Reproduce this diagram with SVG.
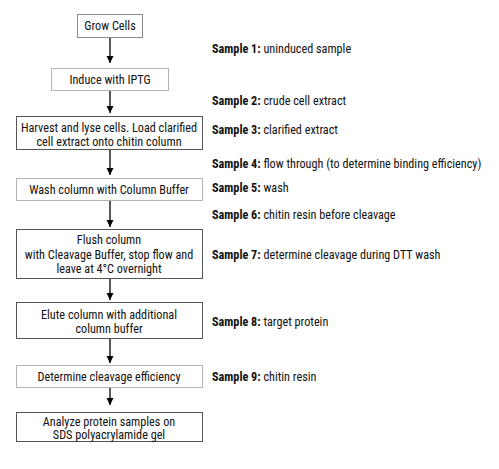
<svg xmlns="http://www.w3.org/2000/svg" width="499" height="469" viewBox="0 0 499 469">
<style>
text{font-family:"Liberation Sans Narrow","Roboto Condensed","Liberation Sans",sans-serif;font-size:12.2px;fill:#111}
.c{text-anchor:middle}
.box{fill:#fff;stroke-width:1}
.lt{stroke:#b4b4b4}
.md{stroke:#8c8c8c}
.dk{stroke:#555}
.b{font-weight:bold}
.conn line{stroke:#000;stroke-width:1.3}
</style>
<defs>
<marker id="ah" viewBox="0 0 10 10" refX="10" refY="5" markerWidth="7" markerHeight="8" markerUnits="userSpaceOnUse" orient="auto"><path d="M0,0L10,5L0,10z" fill="#000"/></marker>
</defs>
<rect width="499" height="469" fill="#fff"/>
<g id="n1"><rect class="box md" x="77.5" y="14.5" width="65" height="23"/><text class="c" x="110" y="30">Grow Cells</text></g>
<g id="n2"><rect class="box lt" x="51.5" y="68.5" width="117" height="22"/><text class="c" x="110" y="84">Induce with IPTG</text></g>
<g id="n3"><rect class="box dk" x="16.5" y="116.5" width="186" height="33"/><text class="c" x="109" y="132">Harvest and lyse cells. Load clarified</text><text class="c" x="109" y="146">cell extract onto chitin column</text></g>
<g id="n4"><rect class="box lt" x="16.5" y="178.5" width="186" height="22"/><text class="c" x="109" y="194">Wash column with Column Buffer</text></g>
<g id="n5"><rect class="box dk" x="16.5" y="229.5" width="186" height="49"/><text class="c" x="109" y="244">Flush column</text><text class="c" x="109" y="259">with Cleavage Buffer, stop flow and</text><text class="c" x="109" y="273">leave at 4°C overnight</text></g>
<g id="n6"><rect class="box dk" x="16.5" y="302.5" width="186" height="36"/><text class="c" x="109" y="318.5">Elute column with additional</text><text class="c" x="109" y="332.5">column buffer</text></g>
<g id="n7"><rect class="box lt" x="16.5" y="365.5" width="186" height="22"/><text class="c" x="109" y="381">Determine cleavage efficiency</text></g>
<g id="n8"><rect class="box dk" x="16.5" y="412.5" width="186" height="29"/><text class="c" x="109" y="425.5">Analyze protein samples on</text><text class="c" x="109" y="439">SDS polyacrylamide gel</text></g>
<g class="conn" id="connectors">
<line x1="110" y1="38" x2="110" y2="63" marker-end="url(#ah)"/>
<line x1="110" y1="91" x2="110" y2="113" marker-end="url(#ah)"/>
<line x1="110" y1="150" x2="110" y2="175" marker-end="url(#ah)"/>
<line x1="110" y1="201" x2="110" y2="227" marker-end="url(#ah)"/>
<line x1="110" y1="279" x2="110" y2="300" marker-end="url(#ah)"/>
<line x1="110" y1="339" x2="110" y2="363" marker-end="url(#ah)"/>
<line x1="110" y1="388" x2="110" y2="405" marker-end="url(#ah)"/>
</g>
<g id="samples">
<text x="212" y="53"><tspan class="b">Sample 1:</tspan> uninduced sample</text>
<text x="212" y="105"><tspan class="b">Sample 2:</tspan> crude cell extract</text>
<text x="212" y="134"><tspan class="b">Sample 3:</tspan> clarified extract</text>
<text x="212" y="168"><tspan class="b">Sample 4:</tspan> flow through (to determine binding efficiency)</text>
<text x="212" y="192"><tspan class="b">Sample 5:</tspan> wash</text>
<text x="212" y="219"><tspan class="b">Sample 6:</tspan> chitin resin before cleavage</text>
<text x="212" y="259"><tspan class="b">Sample 7:</tspan> determine cleavage during DTT wash</text>
<text x="212" y="326"><tspan class="b">Sample 8:</tspan> target protein</text>
<text x="212" y="381"><tspan class="b">Sample 9:</tspan> chitin resin</text>
</g>
</svg>
